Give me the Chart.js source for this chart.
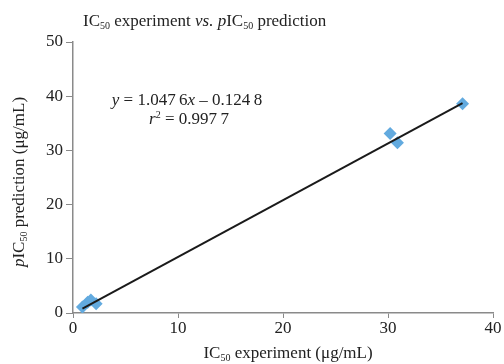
<!DOCTYPE html>
<html>
<head>
<meta charset="utf-8">
<script src="https://cdn.jsdelivr.net/npm/chart.js@4.4.0/dist/chart.umd.min.js"></script>
<style>
  html, body { margin: 0; padding: 0; background: #fff; }
  #wrap { width: 504px; height: 364px; position: relative; }
</style>
</head>
<body>
<div id="wrap"><canvas id="chart"></canvas></div>
<script>
const expIC50 = [0.9, 1.4, 1.7, 2.2, 30.2, 30.9, 37.1];
const predIC50 = [1.1, 2.0, 2.4, 1.7, 33.1, 31.4, 38.6];
const fitSlope = 1.0476;
const fitIntercept = -0.1248;
const xTicks = [0, 10, 20, 30, 40];
const yTicks = [0, 10, 20, 30, 40, 50];

const serif = '"Liberation Serif", "DejaVu Serif", serif';
const textColor = '#222';
const axisColor = '#8a8a8a';
const fontSize = 17;

// fit line drawn across the range of the measured points
const xMin = Math.min(...expIC50);
const xMax = Math.max(...expIC50);
const fitLine = [xMin, xMax].map(x => ({ x: x, y: fitSlope * x + fitIntercept }));

function partFont(p, size) {
    const s = (p.sub || p.sup) ? Math.round(size * 0.6) : size;
    return (p.it ? 'italic ' : '') + s + 'px ' + serif;
}

// draw a run of text parts, some subscript / superscript / italic
function drawRich(ctx, parts, x, y, size) {
    let cx = x;
    parts.forEach(p => {
        ctx.font = partFont(p, size);
        let dy = 0;
        if (p.sub) dy = size * 0.2;
        if (p.sup) dy = -size * 0.38;
        ctx.fillText(p.t, cx, y + dy);
        cx += ctx.measureText(p.t).width;
    });
    return cx - x;
}

function richWidth(ctx, parts, size) {
    let w = 0;
    parts.forEach(p => {
        ctx.font = partFont(p, size);
        w += ctx.measureText(p.t).width;
    });
    return w;
}

function drawCentered(ctx, parts, cx, y, size) {
    drawRich(ctx, parts, cx - richWidth(ctx, parts, size) / 2, y, size);
}

const labelsPlugin = {
    id: 'richLabels',
    afterDraw(chart) {
        const ctx = chart.ctx;
        ctx.save();
        ctx.fillStyle = textColor;
        ctx.textBaseline = 'alphabetic';
        ctx.textAlign = 'left';

        // title
        drawRich(ctx, [
            { t: 'IC' }, { t: '50', sub: true }, { t: ' experiment ' },
            { t: 'vs.', it: true }, { t: ' ' }, { t: 'p', it: true },
            { t: 'IC' }, { t: '50', sub: true }, { t: ' prediction' }
        ], 83, 26, fontSize);

        // equation
        drawCentered(ctx, [
            { t: 'y', it: true }, { t: ' = 1.047\u20096' }, { t: 'x', it: true },
            { t: ' \u2013 0.124\u20098' }
        ], 187, 105, fontSize);
        drawCentered(ctx, [
            { t: 'r', it: true }, { t: '2', sup: true }, { t: ' = 0.997\u20097' }
        ], 189, 124, fontSize);

        // x axis title
        drawCentered(ctx, [
            { t: 'IC' }, { t: '50', sub: true }, { t: ' experiment (\u03bcg/mL)' }
        ], 288, 358, fontSize);

        // y axis title, rotated
        ctx.translate(24, 182);
        ctx.rotate(-Math.PI / 2);
        drawCentered(ctx, [
            { t: 'p', it: true }, { t: 'IC' }, { t: '50', sub: true }, { t: ' prediction (\u03bcg/mL)' }
        ], 0, 0, fontSize);
        ctx.restore();
    }
};

new Chart(document.getElementById('chart'), {
    type: 'scatter',
    data: {
        datasets: [
            {
                label: 'fit',
                type: 'line',
                data: fitLine,
                borderColor: '#1a1a1a',
                borderWidth: 2,
                pointRadius: 0,
                fill: false,
                order: 1
            },
            {
                label: 'samples',
                data: expIC50.map((x, i) => ({ x: x, y: predIC50[i] })),
                pointStyle: 'rectRot',
                pointRadius: 6.5,
                backgroundColor: '#62aadf',
                borderColor: '#62aadf',
                borderWidth: 0,
                order: 2
            }
        ]
    },
    options: {
        responsive: true,
        maintainAspectRatio: false,
        animation: false,
        layout: { padding: { top: 42, right: 11, left: 0, bottom: 0 } },
        plugins: {
            legend: { display: false },
            tooltip: { enabled: false }
        },
        scales: {
            x: {
                type: 'linear',
                min: 0,
                max: 40,
                afterBuildTicks: axis => { axis.ticks = xTicks.map(v => ({ value: v })); },
                afterFit: axis => { axis.height = 51; },
                grid: { drawOnChartArea: false, drawTicks: true, tickLength: 5, color: axisColor },
                border: { color: axisColor, width: 1.5 },
                ticks: { color: textColor, font: { family: serif, size: fontSize }, padding: 0 }
            },
            y: {
                type: 'linear',
                min: 0,
                max: 50,
                afterBuildTicks: axis => { axis.ticks = yTicks.map(v => ({ value: v })); },
                afterFit: axis => { axis.width = 73; },
                grid: { drawOnChartArea: false, drawTicks: true, tickLength: 7, color: axisColor },
                border: { color: axisColor, width: 1.5 },
                ticks: { color: textColor, font: { family: serif, size: fontSize }, padding: 3 }
            }
        }
    },
    plugins: [labelsPlugin]
});
</script>
</body>
</html>
